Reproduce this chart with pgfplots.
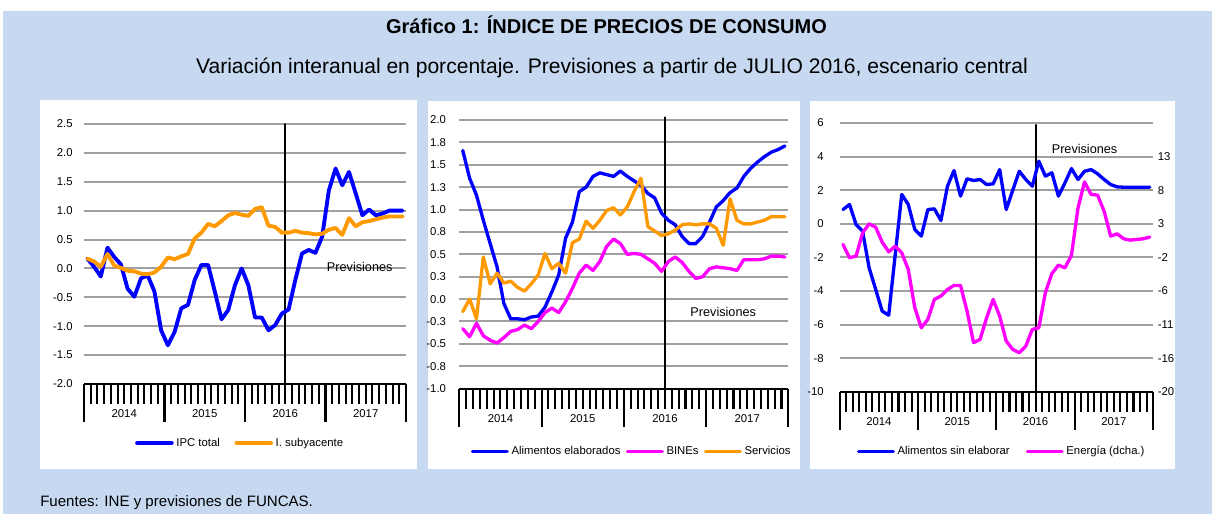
\documentclass[border=0pt]{standalone}
\usepackage{fontspec}
\setmainfont{Liberation Sans}
\usepackage{pgfplots}
\usepackage{pgfplotstable}
\pgfplotsset{compat=1.18}
\definecolor{bgblue}{HTML}{C6D9F1}
\definecolor{gridgray}{HTML}{A0A0A0}
\definecolor{exorange}{HTML}{FF9900}
\definecolor{exblue}{HTML}{0000FF}
\definecolor{exmag}{HTML}{FF00FF}

\pgfplotstableread{
m ipc core
0 0.17 0.17
1 0.03 0.12
2 -0.14 0.03
3 0.36 0.25
4 0.20 0.05
5 0.07 0.01
6 -0.35 -0.04
7 -0.49 -0.05
8 -0.17 -0.09
9 -0.12 -0.10
10 -0.40 -0.07
11 -1.07 0.03
12 -1.33 0.19
13 -1.10 0.16
14 -0.69 0.21
15 -0.63 0.25
16 -0.20 0.52
17 0.06 0.62
18 0.06 0.77
19 -0.40 0.73
20 -0.88 0.82
21 -0.72 0.92
22 -0.29 0.96
23 0.00 0.93
24 -0.29 0.91
25 -0.85 1.03
26 -0.85 1.06
27 -1.07 0.74
28 -0.98 0.72
29 -0.78 0.62
30 -0.71 0.62
31 -0.20 0.65
32 0.26 0.62
33 0.32 0.61
34 0.27 0.59
35 0.55 0.60
36 1.35 0.67
37 1.73 0.70
38 1.44 0.58
39 1.67 0.87
40 1.30 0.73
41 0.92 0.80
42 1.02 0.82
43 0.92 0.85
44 0.95 0.88
45 1.00 0.90
46 1.00 0.90
47 1.00 0.90
}\tabA

\pgfplotstableread{
m alim bines serv
0 1.66 -0.33 -0.14
1 1.35 -0.42 0.00
2 1.16 -0.27 -0.22
3 0.88 -0.41 0.47
4 0.62 -0.46 0.17
5 0.36 -0.49 0.29
6 -0.05 -0.43 0.18
7 -0.22 -0.36 0.20
8 -0.22 -0.34 0.13
9 -0.23 -0.29 0.09
10 -0.20 -0.33 0.17
11 -0.19 -0.25 0.27
12 -0.09 -0.15 0.51
13 0.08 -0.10 0.34
14 0.27 -0.15 0.40
15 0.68 -0.03 0.29
16 0.86 0.12 0.63
17 1.20 0.29 0.67
18 1.25 0.38 0.87
19 1.37 0.32 0.79
20 1.41 0.42 0.88
21 1.39 0.59 0.99
22 1.37 0.67 1.02
23 1.43 0.62 0.94
24 1.37 0.50 1.03
25 1.32 0.51 1.20
26 1.27 0.50 1.35
27 1.18 0.45 0.81
28 1.13 0.40 0.76
29 0.96 0.31 0.71
30 0.88 0.42 0.73
31 0.83 0.47 0.77
32 0.70 0.41 0.83
33 0.62 0.31 0.84
34 0.62 0.23 0.83
35 0.70 0.25 0.84
36 0.86 0.34 0.84
37 1.03 0.36 0.79
38 1.10 0.35 0.60
39 1.19 0.34 1.12
40 1.24 0.32 0.88
41 1.37 0.44 0.84
42 1.46 0.44 0.84
43 1.53 0.44 0.86
44 1.59 0.45 0.88
45 1.64 0.48 0.92
46 1.67 0.48 0.92
47 1.71 0.47 0.92
}\tabB

\pgfplotstableread{
m sinel energ
0 0.85 0.67
1 1.15 -1.19
2 -0.04 -0.96
3 -0.44 2.30
4 -2.62 3.57
5 -3.90 3.10
6 -5.20 1.00
7 -5.44 -0.37
8 -1.83 0.43
9 1.75 -0.51
10 1.15 -2.84
11 -0.34 -8.22
12 -0.73 -11.02
13 0.85 -9.84
14 0.89 -7.04
15 0.20 -6.56
16 2.24 -5.65
17 3.17 -5.08
18 1.65 -5.08
19 2.68 -8.69
20 2.58 -13.12
21 2.64 -12.65
22 2.34 -9.63
23 2.38 -7.04
24 3.23 -9.39
25 0.85 -12.88
26 2.00 -14.06
27 3.13 -14.53
28 2.64 -13.59
29 2.24 -11.26
30 3.73 -11.02
31 2.84 -6.09
32 3.04 -3.41
33 1.65 -2.23
34 2.44 -2.61
35 3.29 -0.84
36 2.64 5.81
37 3.13 9.46
38 3.23 7.70
39 2.98 7.60
40 2.64 5.34
41 2.34 1.85
42 2.20 2.16
43 2.18 1.47
44 2.18 1.28
45 2.18 1.38
46 2.18 1.47
47 2.18 1.71
}\tabC

\pgfplotsset{
  panel/.style={
    scale only axis,
    anchor=south west,
    xmin=-0.5, xmax=47.5,
    axis x line*=bottom,
    axis y line*=left,
    y axis line style={draw=none},
    x axis line style={black, line width=1.5pt},
    tick align=outside,
    xtick={-0.5,11.5,23.5,35.5,47.5},
    xticklabels={,,,,},
    minor xtick={-0.5,0.5,...,47.5},
    major tick length=28.5pt,
    minor tick length=15pt,
    tick style={black, line width=1.55pt},
    ytick style={draw=none},
    ymajorgrids,
    major grid style={gridgray, line width=1.5pt},
    extra x ticks={5.5,17.5,29.5,41.5},
    extra x tick labels={2014,2015,2016,2017},
    extra x tick style={major tick length=0pt, xticklabel style={yshift=-16pt}},
    tick label style={font=\fontsize{8.5}{10}\selectfont, text=black},
    legend style={draw=none, fill=none, font=\fontsize{8.5}{10}\selectfont, legend columns=-1},
    legend image code/.code={\draw[#1] (0pt,0pt) -- (26pt,0pt);},
    clip=false,
    every axis plot/.append style={line join=round, line cap=round},
  }
}

\begin{document}
\begin{tikzpicture}[x=0.75pt,y=0.75pt]
\fill[white] (0,0) rectangle (1212,514);
\fill[bgblue] (3,0) rectangle (1212,503);
\fill[white] (40,45) rectangle (416.5,414);
\fill[white] (428.3,45) rectangle (800,413);
\fill[white] (810,45) rectangle (1175,413);
\node[font=\bfseries\fontsize{15}{17}\selectfont] at (606.5,489) {Gráfico 1: ÍNDICE DE PRECIOS DE CONSUMO};
\node[font=\fontsize{15.8}{18}\selectfont] at (612,446) {Variación interanual en porcentaje. Previsiones a partir de JULIO 2016, escenario central};
\node[anchor=west, inner sep=0pt, font=\fontsize{11.3}{13}\selectfont] at (40,11) {Fuentes: INE y previsiones de FUNCAS.};

% Panel 1
\begin{axis}[panel, at={(63pt,97.5pt)}, width=241.5pt, height=195pt,
  ymin=-2, ymax=2.5, ytick={-2,-1.5,...,2.5},
  yticklabels={-2.0,-1.5,-1.0,-0.5,0.0,0.5,1.0,1.5,2.0,2.5},
  yticklabel style={xshift=23.5pt},
  legend style={at={(0.486,-0.227)}, anchor=center, /tikz/every even column/.append style={column sep=9pt}}]
\addplot[black, line width=1.4pt, forget plot] coordinates {(29.5,-2) (29.5,2.5)};
\addplot[exblue, line width=2.9pt] table[x=m, y=ipc] {\tabA};
\addlegendentry{IPC total}
\addplot[exorange, line width=2.9pt] table[x=m, y=core] {\tabA};
\addlegendentry{I. subyacente}
\node[font=\fontsize{9.5}{11}\selectfont] at (axis cs:40.6,0.03) {Previsiones};
\end{axis}

% Panel 2
\begin{axis}[panel, at={(344.5pt,94pt)}, width=246.75pt, height=201.5pt,
  ymin=-1, ymax=2, ytick={-1,-0.75,...,2},
  yticklabels={-1.0,-0.8,-0.5,-0.3,0.0,0.3,0.5,0.8,1.0,1.3,1.5,1.8,2.0},
  yticklabel style={xshift=22pt},
  legend style={at={(0.525,-0.234)}, anchor=center, /tikz/every even column/.append style={column sep=2pt}}]
\addplot[black, line width=1.4pt, forget plot] coordinates {(29.5,-1) (29.5,2.03)};
\addplot[exblue, line width=2.5pt] table[x=m, y=alim] {\tabB};
\addlegendentry{Alimentos elaborados}
\addplot[exmag, line width=2.5pt] table[x=m, y=bines] {\tabB};
\addlegendentry{BINEs}
\addplot[exorange, line width=2.5pt] table[x=m, y=serv] {\tabB};
\addlegendentry{Servicios}
\node[font=\fontsize{9.5}{11}\selectfont] at (axis cs:38.0,-0.14) {Previsiones};
\end{axis}

% Panel 3 left
\begin{axis}[panel, at={(629.8pt,91.7pt)}, width=235pt, height=201.5pt,
  ymin=-10, ymax=6, ytick={-10,-8,...,6},
  yticklabels={-10,-8,-6,-4,-2,0,2,4,6},
  yticklabel style={xshift=20pt}]
\addplot[black, line width=1.4pt, forget plot] coordinates {(29.5,-10) (29.5,5.9)};
\addplot[exblue, line width=2.5pt] table[x=m, y=sinel] {\tabC};
\node[font=\fontsize{9.5}{11}\selectfont] at (axis cs:37.0,4.43) {Previsiones};
\end{axis}

% Panel 3 right
\begin{axis}[scale only axis, anchor=south west, at={(629.8pt,91.7pt)}, width=235pt, height=201.5pt,
  xmin=-0.5, xmax=47.5, ymin=-20, ymax=17.714,
  axis x line=none, axis y line*=right, y axis line style={draw=none}, ytick style={draw=none},
  ytick={-20,-15.286,-10.571,-5.857,-1.143,3.571,8.286,13},
  yticklabels={-20,-16,-11,-6,-2,3,8,13},
  tick label style={font=\fontsize{8.5}{10}\selectfont, text=black},
  clip=false,
  legend style={draw=none, fill=none, font=\fontsize{8.5}{10}\selectfont, legend columns=-1,
    at={(0.518,-0.223)}, anchor=center, /tikz/every even column/.append style={column sep=10pt}},
  legend image code/.code={\draw[#1] (0pt,0pt) -- (26pt,0pt);},
  every axis plot/.append style={line join=round, line cap=round}]
\addlegendimage{exblue, line width=2.5pt}
\addlegendentry{Alimentos sin elaborar}
\addplot[exmag, line width=2.5pt] table[x=m, y=energ] {\tabC};
\addlegendentry{Energía (dcha.)}
\end{axis}
\end{tikzpicture}
\end{document}
